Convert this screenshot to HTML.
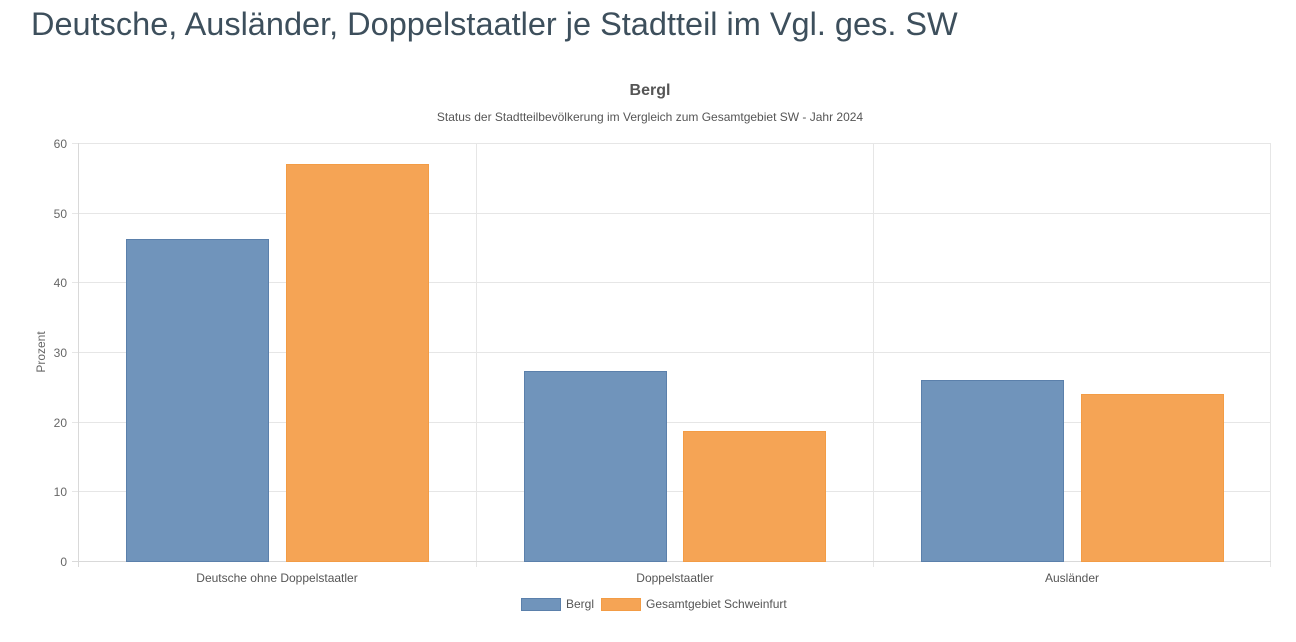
<!DOCTYPE html>
<html><head><meta charset="utf-8"><style>
body{margin:0;background:#fff;width:1296px;height:642px;overflow:hidden;font-family:"Liberation Sans",sans-serif}
h1{position:absolute;left:31px;top:6px;margin:0;font-weight:normal;font-size:32.5px;color:#3d4f5c}
</style></head><body>
<h1>Deutsche, Ausländer, Doppelstaatler je Stadtteil im Vgl. ges. SW</h1>
<svg width="1296" height="642" style="position:absolute;left:0;top:0" font-family="Liberation Sans, sans-serif">
<text x="650" y="95" text-anchor="middle" font-size="16" font-weight="bold" fill="#555">Bergl</text>
<text x="650" y="121" text-anchor="middle" font-size="12" fill="#555">Status der Stadtteilbevölkerung im Vergleich zum Gesamtgebiet SW - Jahr 2024</text>
<g stroke="#e6e6e6" stroke-width="1">
<line x1="72" y1="143.5" x2="1271" y2="143.5"/>
<line x1="72" y1="213.5" x2="1271" y2="213.5"/>
<line x1="72" y1="282.5" x2="1271" y2="282.5"/>
<line x1="72" y1="352.5" x2="1271" y2="352.5"/>
<line x1="72" y1="422.5" x2="1271" y2="422.5"/>
<line x1="72" y1="491.5" x2="1271" y2="491.5"/>
<line x1="476.5" y1="143" x2="476.5" y2="567"/>
<line x1="873.5" y1="143" x2="873.5" y2="567"/>
<line x1="1270.5" y1="143" x2="1270.5" y2="567"/>
</g>
<line x1="78.5" y1="143" x2="78.5" y2="567" stroke="#d9d9d9"/>
<line x1="72" y1="561.5" x2="1271" y2="561.5" stroke="#d9d9d9"/>
<g font-size="12" fill="#666" text-anchor="end">
<text x="67" y="148">60</text><text x="67" y="218">50</text><text x="67" y="287">40</text>
<text x="67" y="357">30</text><text x="67" y="427">20</text><text x="67" y="496">10</text><text x="67" y="566">0</text>
</g>
<text transform="translate(45,352) rotate(-90)" text-anchor="middle" font-size="12" fill="#666">Prozent</text>
<g fill="#7094bb" stroke="#5b80ab">
<rect x="126.5" y="239.5" width="142" height="322"/>
<rect x="524.5" y="371.5" width="142" height="190"/>
<rect x="921.5" y="380.5" width="142" height="181"/>
</g>
<g fill="#f5a455" stroke="#f39c45">
<rect x="286.5" y="164.5" width="142" height="397"/>
<rect x="683.5" y="431.5" width="142" height="130"/>
<rect x="1081.5" y="394.5" width="142" height="167"/>
</g>
<g font-size="12" fill="#555" text-anchor="middle">
<text x="277" y="582">Deutsche ohne Doppelstaatler</text>
<text x="675" y="582">Doppelstaatler</text>
<text x="1072" y="582">Ausländer</text>
</g>
<rect x="521.5" y="598.5" width="39" height="12" fill="#7094bb" stroke="#5b80ab"/>
<text x="566" y="608" font-size="12" fill="#555">Bergl</text>
<rect x="601.5" y="598.5" width="39" height="12" fill="#f5a455" stroke="#f39c45"/>
<text x="646" y="608" font-size="12" fill="#555">Gesamtgebiet Schweinfurt</text>
</svg>
</body></html>
